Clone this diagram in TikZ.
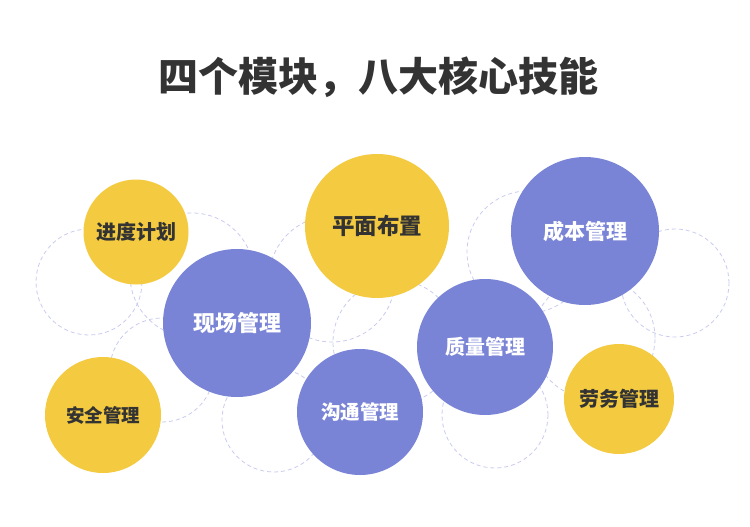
\documentclass[tikz,border=0pt]{standalone}
\usepackage{fontspec}
\newfontfamily\cjk{Noto Sans CJK SC}
\definecolor{ballyellow}{HTML}{F3CA40}
\definecolor{ballpurple}{HTML}{7A84D6}
\definecolor{ringlilac}{HTML}{C9CCF0}
\definecolor{textdark}{HTML}{333333}
\begin{document}
\begin{tikzpicture}[x=1pt, y=-1pt,
  ball/.style={circle, inner sep=0pt},
  fs/.style={font=\cjk\bfseries\fontsize{#1}{#1}\selectfont},
  yellowball/.style={ball, fill=ballyellow, text=textdark},
  purpleball/.style={ball, fill=ballpurple, text=white},
  ring/.style={draw=ringlilac, line width=0.8pt, dash pattern=on 4pt off 3pt}]
\fill[white] (0,0) rectangle (750,527);
\useasboundingbox (0,0) rectangle (750,527);
\node[fs=40, text=textdark] (title) at (378,77) {四个模块，八大核心技能};
% dashed rings behind
\draw[ring] (89,282) circle (53pt);
\draw[ring] (192,275) circle (62pt);
\draw[ring] (162,370) circle (52pt);
\draw[ring] (274,420) circle (52pt);
\draw[ring] (332,279) circle (63pt);
\draw[ring] (395,342) circle (62pt);
\draw[ring] (528,252) circle (61pt);
\draw[ring] (675,283) circle (54pt);
\draw[ring] (594,338) circle (61pt);
\draw[ring] (495,415) circle (53pt);
% skill balls
\node[yellowball, minimum size=105pt, fs=20] (jindu) at (136,232) {进度计划};
\node[purpleball, minimum size=148pt, fs=22] (xianchang) at (237,323) {现场管理};
\node[yellowball, minimum size=116pt, fs=18.5] (anquan) at (103,415) {安全管理};
\node[yellowball, minimum size=144pt, fs=22.5] (pingmian) at (377,226) {平面布置};
\node[purpleball, minimum size=126pt, fs=19.5] (goutong) at (360,412) {沟通管理};
\node[purpleball, minimum size=148pt, fs=21] (chengben) at (585,231) {成本管理};
\node[purpleball, minimum size=136pt, fs=20] (zhiliang) at (485,347) {质量管理};
\node[yellowball, minimum size=110pt, fs=20] (laowu) at (619,399) {劳务管理};
\end{tikzpicture}
\end{document}
